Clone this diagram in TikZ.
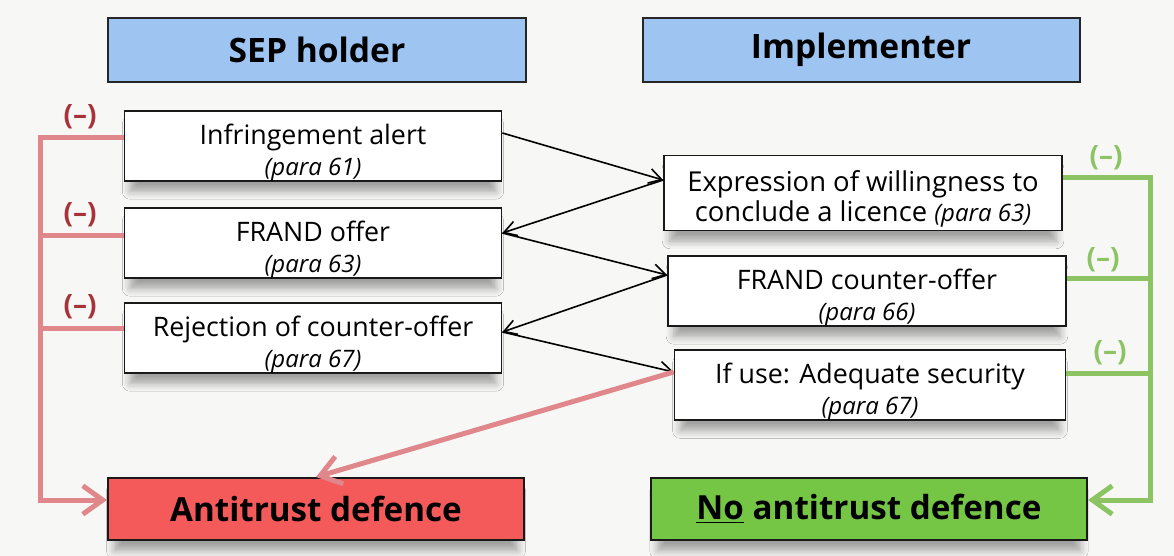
\documentclass[tikz,border=0pt]{standalone}
\usepackage{fontspec}
\setmainfont{Open Sans}
\usetikzlibrary{arrows.meta,positioning,shadows.blur}
\definecolor{paper}{HTML}{F7F7F6}
\definecolor{headblue}{HTML}{9EC5F2}
\definecolor{defred}{HTML}{F45A5A}
\definecolor{defgreen}{HTML}{76C646}
\definecolor{redline}{HTML}{E0878B}
\definecolor{redmark}{HTML}{A8323A}
\definecolor{greenline}{HTML}{8CC464}
\newcommand{\para}[1]{{\itshape\fontsize{12}{14}\selectfont (para #1)}}
\newcommand{\lift}{\rule{0pt}{16.5pt}}

\begin{document}
\begin{tikzpicture}[x=0.5pt,y=-0.5pt,
  shade/.style={blur shadow={shadow xshift=0pt,shadow yshift=-6pt,shadow scale=0.97,shadow blur radius=4pt,shadow opacity=35,shadow blur steps=6}},
  head/.style={draw=black!85,line width=1pt,fill=headblue,minimum width=#1,minimum height=32pt,inner sep=0pt,font=\fontsize{16.8}{19}\selectfont\bfseries},
  box/.style={draw=black!90,line width=0.9pt,fill=white,align=center,minimum width=#1,minimum height=33.5pt,inner sep=0pt,font=\fontsize{13.4}{15.5}\selectfont,shade},
  verdict/.style={draw=black!90,line width=1pt,minimum width=#1,minimum height=31pt,inner sep=0pt,font=\fontsize{16.6}{20}\selectfont\bfseries,shade},
  arr/.style={-{Straight Barb[length=2.2mm,width=2.6mm]},line width=0.8pt,black},
  redarr/.style={line width=2.5pt,redline},
  greenarr/.style={line width=2.5pt,greenline},
  minus/.style={font=\fontsize{14}{16}\selectfont\bfseries}
]
\fill[paper] (0,0) rectangle (1174,556);

% column heads
\node[head=209pt] (sep) at (317,50) {SEP holder};
\node[head=218.5pt] (impl) at (861,50) {Implementer};

% SEP holder steps
\node[box=188.5pt] (alert) at (313,146) {\lift Infringement alert\\\para{61}};
\node[box=188.5pt] (offer) at (313,243) {\lift FRAND offer\\\para{63}};
\node[box=188.5pt,minimum height=34pt] (reject) at (313,338) {\lift Rejection of counter-offer\\\para{67}};

% implementer steps
\node[box=199pt,minimum height=37.5pt,font=\fontsize{13.7}{15}\selectfont] (willing) at (863,193) {\lift Expression of willingness to\\conclude a licence \para{63}};
\node[box=199pt,minimum height=34.5pt] (counter) at (867,291) {\lift FRAND counter-offer\\\para{66}};
\node[box=195.5pt,minimum height=35pt] (secure) at (870,385) {\lift If use: Adequate security\\\para{67}};

% outcomes
\node[verdict=208pt,fill=defred] (anti) at (316,509) {Antitrust defence};
\node[verdict=218pt,fill=defgreen] (noanti) at (869,509) {\underline{No} antitrust defence};

% negotiation steps
\draw[arr] ([yshift=6.5pt]alert.east) -- ([yshift=6.5pt]willing.west);
\draw[arr] ([yshift=6.5pt]willing.west) -- ([yshift=5pt]offer.east);
\draw[arr] ([yshift=5pt]offer.east) -- ([yshift=8pt]counter.west);
\draw[arr] ([yshift=8pt]counter.west) -- ([yshift=3pt]reject.east);
\draw[arr] ([yshift=3pt]reject.east) -- ([yshift=6.5pt]secure.west);
\draw[redarr,-{Straight Barb[length=3.5mm,width=5mm]}] ([yshift=6.5pt]secure.west) -- (anti.north);

% SEP holder failures
\coordinate (redbus) at (40,0);
\coordinate (antiin) at ([yshift=4.5pt]anti.west);
\draw[redarr,-{Straight Barb[length=3.5mm,width=5mm]}] ([yshift=4pt]alert.west) -| (redbus |- antiin) -- (antiin);
\draw[redarr] ([yshift=3.5pt]offer.west) -- +(-85,0);
\draw[redarr] ([yshift=5pt]reject.west) -- +(-85,0);
\node[minus,redmark] (m1) at (80,117) {(–)};
\node[minus,redmark] (m2) at (80,215) {(–)};
\node[minus,redmark] (m3) at (80,307) {(–)};

% implementer failures
\coordinate (greenbus) at (1150,0);
\coordinate (noantiin) at ([yshift=4.5pt]noanti.east);
\draw[greenarr,-{Straight Barb[length=3.5mm,width=5mm]}] ([yshift=7.5pt]willing.east) -| (greenbus |- noantiin) -- (noantiin);
\draw[greenarr] ([yshift=6.5pt]counter.east) -- +(84,0);
\draw[greenarr] ([yshift=6pt]secure.east) -- +(84,0);
\node[minus,greenline] (g1) at (1106,158) {(–)};
\node[minus,greenline] (g2) at (1103,260) {(–)};
\node[minus,greenline] (g3) at (1110,353) {(–)};
\end{tikzpicture}
\end{document}
